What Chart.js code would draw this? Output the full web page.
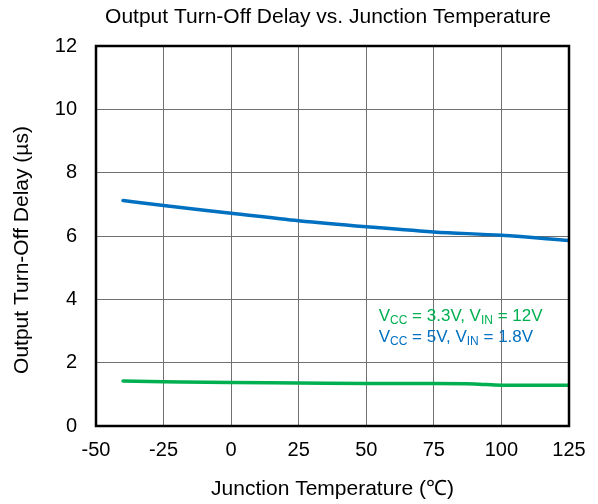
<!DOCTYPE html>
<html>
<head>
<meta charset="utf-8">
<script src="https://cdn.jsdelivr.net/npm/chart.js@4"></script>
<style>
html,body{margin:0;padding:0;background:#fff;}
#wrap{width:598px;height:504px;}
</style>
</head>
<body>
<div id="wrap"><canvas id="c" width="598" height="504"></canvas></div>
<script>
const temps = [-40, -25, 0, 25, 50, 75, 90, 100, 125];
const vcc33Delay = [1.42, 1.40, 1.37, 1.36, 1.34, 1.34, 1.33, 1.29, 1.29];
const temps5 = [-40, -25, 0, 25, 50, 75, 100, 125];
const vcc5Delay = [7.12, 6.96, 6.72, 6.48, 6.29, 6.13, 6.02, 5.86];
const xTicks = [-50, -25, 0, 25, 50, 75, 100, 125];
const yTicks = [0, 2, 4, 6, 8, 10, 12];
const titleText = 'Output Turn-Off Delay vs. Junction Temperature';
const xTitle = 'Junction Temperature (\u2103)';
const yTitle = 'Output Turn-Off Delay (\u00b5s)';
const legendLines = [
  {color:'#00b050', parts:[['V',0],['CC',1],[' = 3.3V, V',0],['IN',1],[' = 12V',0]]},
  {color:'#0070c0', parts:[['V',0],['CC',1],[' = 5V, V',0],['IN',1],[' = 1.8V',0]]}
];
const FONT = 'Liberation Sans, Arial, sans-serif';

const overlay = {
  id:'overlay',
  afterDraw(chart){
    const ctx = chart.ctx, a = chart.chartArea;
    ctx.save();
    ctx.strokeStyle = '#000'; ctx.lineWidth = 2.5;
    ctx.strokeRect(a.left, a.top, a.right - a.left, a.bottom - a.top);
    ctx.fillStyle = '#000';
    ctx.font = '21px ' + FONT;
    ctx.textAlign = 'center'; ctx.textBaseline = 'middle';
    ctx.fillText(titleText, 328, 17);
    // y axis title
    ctx.save();
    ctx.translate(22, 250);
    ctx.rotate(-Math.PI / 2);
    ctx.fillText(yTitle, 0, 0);
    ctx.restore();
    ctx.textAlign = 'left'; ctx.textBaseline = 'alphabetic';
    const x0 = chart.scales.x.getPixelForValue(54.6);
    const ys = [chart.scales.y.getPixelForValue(3.32), chart.scales.y.getPixelForValue(2.66)];
    legendLines.forEach((ln, i) => {
      let x = x0;
      ctx.fillStyle = ln.color;
      ln.parts.forEach(([t, sub]) => {
        ctx.font = (sub ? '12px ' : '17px ') + FONT;
        ctx.fillText(t, x, ys[i] + (sub ? 3 : 0));
        x += ctx.measureText(t).width;
      });
    });
    ctx.restore();
  }
};

new Chart(document.getElementById('c'), {
  type:'line',
  data:{
    datasets:[
      {label:'VCC = 5V, VIN = 1.8V', data: temps5.map((t,i)=>({x:t,y:vcc5Delay[i]})), borderColor:'#0070c0', borderWidth:3.5, pointRadius:0, cubicInterpolationMode:'monotone', borderCapStyle:'round'},
      {label:'VCC = 3.3V, VIN = 12V', data: temps.map((t,i)=>({x:t,y:vcc33Delay[i]})), borderColor:'#00b050', borderWidth:3.5, pointRadius:0, cubicInterpolationMode:'monotone', borderCapStyle:'round'}
    ]
  },
  options:{
    responsive:false, animation:false,
    layout:{padding:{top:46, right:29, left:0, bottom:0}},
    plugins:{legend:{display:false}, tooltip:{enabled:false}, title:{display:false}},
    scales:{
      x:{type:'linear', min:-50, max:125,
        afterBuildTicks(s){ s.ticks = xTicks.map(v=>({value:v})); },
        afterFit(s){ s.height = 78; },
        grid:{color:'#707070', lineWidth:1, drawTicks:false},
        border:{display:false},
        ticks:{color:'#000', font:{family:FONT, size:20}, padding:12, maxRotation:0, autoSkip:false},
        title:{display:true, text:xTitle, color:'#000', font:{family:FONT, size:21}, padding:{top:0,bottom:2}}
      },
      y:{type:'linear', min:0, max:12,
        afterBuildTicks(s){ s.ticks = yTicks.map(v=>({value:v})); },
        afterFit(s){ s.width = 96; },
        grid:{color:'#707070', lineWidth:1, drawTicks:false},
        border:{display:false},
        ticks:{color:'#000', font:{family:FONT, size:20}, padding:19, autoSkip:false},
        title:{display:false, text:yTitle}
      }
    }
  },
  plugins:[overlay]
});
</script>
</body>
</html>
